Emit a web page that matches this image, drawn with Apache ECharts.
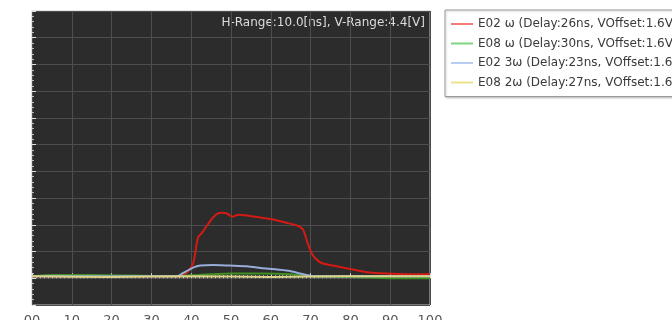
<!DOCTYPE html>
<html>
<head>
<meta charset="utf-8">
<script src="https://cdn.jsdelivr.net/npm/echarts@6/dist/echarts.min.js"></script>
<style>
html,body{margin:0;padding:0;background:#fff;}
#c{width:672px;height:320px;}
</style>
</head>
<body>
<div id="c"></div>
<script>
// Series names (legend)
const seriesNames = [
  'E02 ω (Delay:26ns, VOffset:1.6V)',
  'E08 ω (Delay:30ns, VOffset:1.6V)',
  'E02 3ω (Delay:23ns, VOffset:1.6V)',
  'E08 2ω (Delay:27ns, VOffset:1.6V)'
];
// X tick labels
const xTickLabels = ['00','10','20','30','40','50','60','70','80','90','100'];
const annotationText = 'H-Range:10.0[ns], V-Range:4.4[V]';

// E02 ω (red)
const redX = [0, 20, 37, 39, 40.5, 41.7, 42.7, 44, 45.5, 46.7, 47.7, 49, 50.3, 51.8, 54, 57.3, 60.6, 64, 66.6, 68.1, 69.3, 70.6, 71.9, 73.1, 75.6, 79.9, 84.2, 89.2, 95, 100];
const redY = [0.03, 0.03, 0.03, 0.09, 0.22, 0.61, 0.68, 0.79, 0.91, 0.97, 0.98, 0.97, 0.92, 0.95, 0.94, 0.91, 0.88, 0.83, 0.79, 0.73, 0.52, 0.34, 0.26, 0.22, 0.19, 0.14, 0.09, 0.07, 0.06, 0.06];
// E08 ω (green)
const greenX = [0, 5, 15, 25, 35, 42, 50, 58, 65, 70, 80, 85, 90, 100];
const greenY = [0.03, 0.05, 0.05, 0.04, 0.03, 0.05, 0.07, 0.07, 0.06, 0.03, 0.02, 0.01, 0.0, 0.0];
// E02 3ω (blue)
const blueX = [0, 20, 36.5, 38, 40.5, 42.3, 45.5, 49.7, 54, 58, 61.6, 64.8, 66.8, 69, 70.5, 85, 100];
const blueY = [0.03, 0.03, 0.03, 0.08, 0.16, 0.19, 0.20, 0.19, 0.18, 0.15, 0.13, 0.11, 0.08, 0.05, 0.03, 0.03, 0.03];
// E08 2ω (yellow)
const yellowX = [0, 20, 40, 60, 80, 100];
const yellowY = [0.03, 0.02, 0.03, 0.02, 0.03, 0.03];

const pairs = (xs, ys) => xs.map((x, i) => [x, ys[i]]);

const lineColors = ['#d41a14', '#3f8f22', '#98acd8', '#dcd38a'];
const legendColors = ['#f27a7a', '#7fd47f', '#b8cdf2', '#ece48a'];
const dataSets = [pairs(redX, redY), pairs(greenX, greenY), pairs(blueX, blueY), pairs(yellowX, yellowY)];

const chart = echarts.init(document.getElementById('c'), null, {renderer: 'canvas'});
chart.setOption({
  animation: false,
  backgroundColor: '#ffffff',
  grid: {
    left: 32, right: 242, top: 11, bottom: 15,
    outerBoundsMode: 'none', containLabel: false,
    show: true, backgroundColor: '#2c2c2c', borderColor: '#c4c4c4', borderWidth: 1
  },
  legend: {
    orient: 'vertical',
    left: 445, top: 10,
    padding: [8, 20, 8, 6],
    itemWidth: 22, itemHeight: 12, itemGap: 7.5,
    borderColor: '#9a9a9a', borderWidth: 1,
    backgroundColor: '#ffffff',
    shadowColor: 'rgba(0,0,0,0.2)', shadowBlur: 2, shadowOffsetX: 1, shadowOffsetY: 1,
    icon: 'path://M0,5 L22,5 L22,7 L0,7 Z',
    textStyle: {fontSize: 12, color: '#3a3a3a', fontFamily: 'DejaVu Sans'},
    data: seriesNames.map((n, i) => ({name: n, itemStyle: {color: legendColors[i]}}))
  },
  xAxis: {
    type: 'value', min: 0, max: 100, interval: 10,
    axisLine: {show: false},
    axisTick: {show: true, inside: true, length: 5, lineStyle: {color: '#e0e0e0'}},
    minorTick: {show: true, splitNumber: 10, length: 3, lineStyle: {color: '#d0d0d0'}},
    axisLabel: {
      margin: 9, fontSize: 13, color: '#555', fontFamily: 'DejaVu Sans',
      formatter: v => xTickLabels[Math.round(v / 10)]
    },
    splitLine: {show: true, lineStyle: {color: '#4d4d4d', width: 1}}
  },
  yAxis: {
    type: 'value', min: -0.4, max: 4.0, interval: 0.4,
    axisLine: {show: false},
    axisLabel: {show: false},
    axisTick: {show: true, inside: true, length: 4, lineStyle: {color: '#e0e0e0'}},
    minorTick: {show: true, splitNumber: 5, length: 2, lineStyle: {color: '#bdbdbd'}},
    splitLine: {show: true, lineStyle: {color: '#4d4d4d', width: 1}}
  },
  graphic: [{
    type: 'text', right: 247, top: 17,
    style: {text: annotationText, fill: '#dcdcdc', fontSize: 12, fontFamily: 'DejaVu Sans', align: 'right'}
  }],
  series: seriesNames.map((n, i) => ({
    name: n, type: 'line', data: dataSets[i], showSymbol: false, symbol: 'none',
    smooth: 0.2,
    lineStyle: {color: lineColors[i], width: 2},
    itemStyle: {color: lineColors[i]}
  }))
});
</script>
</body>
</html>
